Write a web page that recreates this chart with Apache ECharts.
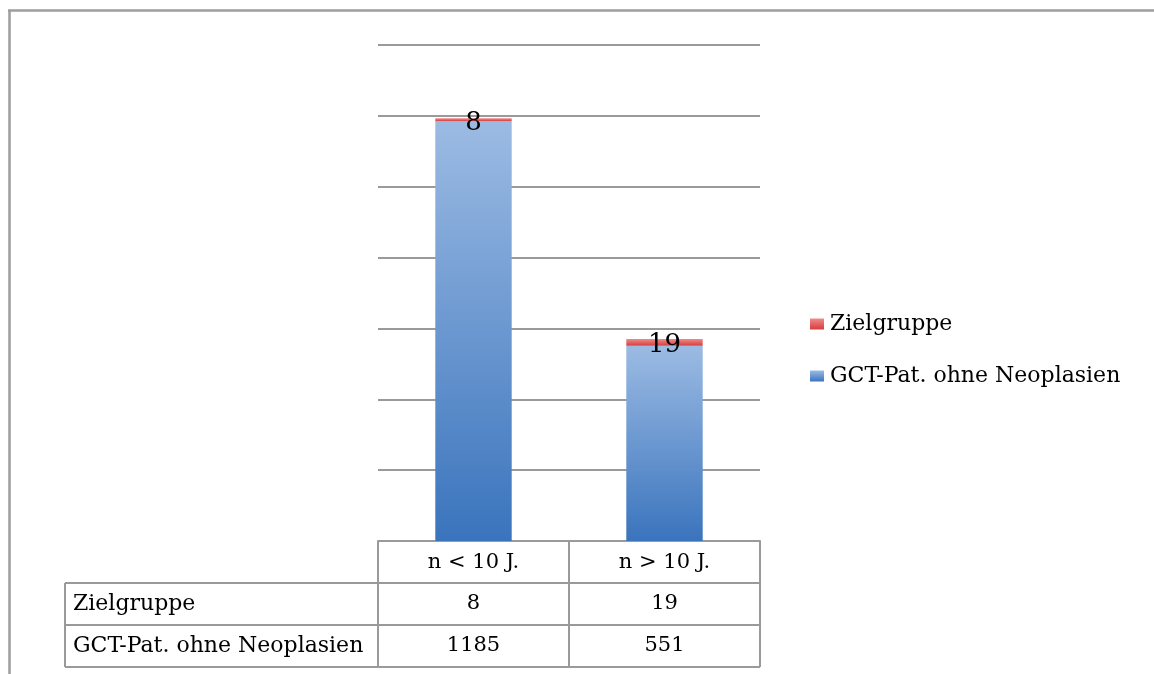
<!DOCTYPE html>
<html>
<head>
<meta charset="utf-8">
<script src="https://cdn.jsdelivr.net/npm/echarts@6/dist/echarts.min.js"></script>
<style>
html,body{margin:0;padding:0;background:#fff;}
#c{width:1154px;height:674px;}
</style>
</head>
<body>
<div id="c"></div>
<script>
var categories = ['n < 10 J.', 'n > 10 J.'];
var seriesNames = ['Zielgruppe', 'GCT-Pat. ohne Neoplasien'];
var zielgruppe = [8, 19];
var gctPat = [1185, 551];
var yMax = 1400;
var yInterval = 200;

var FONT = 'DejaVu Serif';
var GRID_LINE = '#9a9a9a';

var chart = echarts.init(document.getElementById('c'), null, {renderer: 'canvas'});

var blueGrad = new echarts.graphic.LinearGradient(0, 0, 0, 1, [
  {offset: 0, color: '#9cbbe3'},
  {offset: 1, color: '#3a74bd'}
]);
var redGrad = new echarts.graphic.LinearGradient(0, 0, 0, 1, [
  {offset: 0, color: '#f08a8a'},
  {offset: 1, color: '#d63c3c'}
]);

var option = {
  animation: false,
  backgroundColor: '#fff',
  grid: {left: 378, right: 394, top: 45, bottom: 133, containLabel: false},
  legend: {
    orient: 'vertical',
    left: 805,
    top: 308,
    itemWidth: 14,
    itemHeight: 11,
    itemGap: 30,
    icon: 'rect',
    textStyle: {fontFamily: FONT, fontSize: 22, color: '#000', padding: [0, 0, 0, 1]},
    data: [seriesNames[0], seriesNames[1]]
  },
  xAxis: {
    type: 'category',
    data: categories,
    axisLine: {show: true, lineStyle: {color: GRID_LINE, width: 2}},
    axisTick: {show: false},
    axisLabel: {fontFamily: FONT, fontSize: 21, color: '#000', margin: 11}
  },
  yAxis: {
    type: 'value',
    min: 0,
    max: yMax,
    interval: yInterval,
    axisLine: {show: false},
    axisTick: {show: false},
    axisLabel: {show: false},
    splitLine: {show: true, lineStyle: {color: GRID_LINE, width: 2}}
  },
  series: [
    {
      name: seriesNames[1],
      type: 'bar',
      stack: 'a',
      barWidth: '40%',
      data: gctPat,
      itemStyle: {color: blueGrad}
    },
    {
      name: seriesNames[0],
      type: 'bar',
      stack: 'a',
      barWidth: '40%',
      data: zielgruppe,
      itemStyle: {color: redGrad},
      z: 3,
      label: {
        show: true,
        position: 'inside',
        offset: [0, 3],
        fontFamily: FONT,
        fontSize: 26,
        color: '#000'
      }
    }
  ]
};
chart.setOption(option);

// Data table below the axis (built from the arrays and the chart's own scale)
var x0 = chart.convertToPixel({xAxisIndex: 0}, categories[0]);
var x1 = chart.convertToPixel({xAxisIndex: 0}, categories[1]);
var colW = x1 - x0;
var gridLeft = x0 - colW / 2;
var gridRight = x1 + colW / 2;
var yBase = chart.convertToPixel({yAxisIndex: 0}, 0);
var rowH = 42;
var labelLeft = 65;
var rows = [
  {name: seriesNames[0], values: zielgruppe},
  {name: seriesNames[1], values: gctPat}
];

var els = [];
function line(xa, ya, xb, yb) {
  els.push({type: 'line', shape: {x1: xa, y1: ya, x2: xb, y2: yb},
    style: {stroke: GRID_LINE, lineWidth: 2}, z: 10});
}
line(gridLeft, yBase, gridLeft, yBase + rowH * 3);
line(gridLeft + colW, yBase, gridLeft + colW, yBase + rowH * 3);
line(gridRight, yBase, gridRight, yBase + rowH * 3);
line(labelLeft, yBase + rowH, labelLeft, yBase + rowH * 3);
line(labelLeft, yBase + rowH, gridRight, yBase + rowH);
line(labelLeft, yBase + rowH * 2, gridRight, yBase + rowH * 2);
line(labelLeft, yBase + rowH * 3, gridRight, yBase + rowH * 3);

rows.forEach(function (r, i) {
  var cy = yBase + rowH * (i + 1) + rowH / 2;
  els.push({type: 'text', x: labelLeft + 8, y: cy,
    style: {text: r.name, fontFamily: FONT, fontSize: 22, fill: '#000', align: 'left', verticalAlign: 'middle'}, z: 11});
  r.values.forEach(function (v, j) {
    var cx = chart.convertToPixel({xAxisIndex: 0}, categories[j]);
    els.push({type: 'text', x: cx, y: cy,
      style: {text: String(v), fontFamily: FONT, fontSize: 21, fill: '#000', align: 'center', verticalAlign: 'middle'}, z: 11});
  });
});

// outer frame (left and top edges)
els.push({type: 'line', shape: {x1: 9.5, y1: 10, x2: 9.5, y2: 674}, style: {stroke: '#9d9d9d', lineWidth: 2.5}, z: 12});
els.push({type: 'line', shape: {x1: 8, y1: 10.5, x2: 1154, y2: 10.5}, style: {stroke: '#9d9d9d', lineWidth: 2.5}, z: 12});

chart.setOption({graphic: {elements: els}});
</script>
</body>
</html>
